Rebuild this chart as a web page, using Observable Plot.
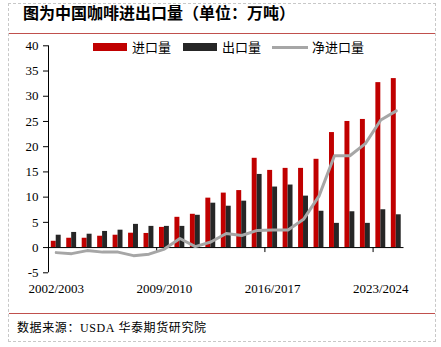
<!DOCTYPE html>
<html>
<head>
<meta charset="utf-8">
<script src="https://cdn.jsdelivr.net/npm/d3@7"></script>
<script src="https://cdn.jsdelivr.net/npm/@observablehq/plot@0.6"></script>
<style>
  html, body { margin: 0; padding: 0; background: #fff; }
  #wrap { position: relative; width: 441px; height: 347px; overflow: hidden; font-family: "Noto Sans CJK SC", sans-serif; }
  .abs { position: absolute; }
  #border { left: 8px; top: 3px; width: 426px; height: 337px; border: 1px dashed #c8c8c8; }
  #title { left: 23px; top: 2px; height: 20px; line-height: 20px; font-size: 16px; font-weight: bold; color: #000; white-space: nowrap; }
  .rline { left: 9px; width: 426px; height: 1px; background: #C0504D; }
  #chart { left: 0; top: 34px; }
  .sw { height: 8px; }
  .lt { font-size: 13px; line-height: 16px; color: #000; white-space: nowrap; }
  #caption { left: 17px; top: 318px; font-size: 12px; line-height: 18px; color: #000; white-space: nowrap; letter-spacing: 0.6px; }
</style>
</head>
<body>
<div id="wrap">
  <div id="border" class="abs"></div>
  <div id="title" class="abs">图为中国咖啡进出口量（单位：万吨）</div>
  <div class="abs rline" style="top:33px"></div>
  <div id="chart" class="abs"></div>
  <div class="abs sw" style="left:93px;top:43px;width:34px;background:#C00000"></div>
  <div class="abs lt" style="left:132px;top:39px">进口量</div>
  <div class="abs sw" style="left:183px;top:43px;width:34px;background:#262626"></div>
  <div class="abs lt" style="left:222px;top:39px">出口量</div>
  <div class="abs" style="left:272px;top:46px;width:36px;height:2.5px;background:#A6A6A6"></div>
  <div class="abs lt" style="left:312px;top:39px">净进口量</div>
  <div class="abs rline" style="top:313px"></div>
  <div id="caption" class="abs">数据来源：<span style="font-family:'Liberation Serif',serif">USDA</span> 华泰期货研究院</div>
</div>
<script>
const years = ["2002/2003","2003/2004","2004/2005","2005/2006","2006/2007","2007/2008","2008/2009","2009/2010","2010/2011","2011/2012","2012/2013","2013/2014","2014/2015","2015/2016","2016/2017","2017/2018","2018/2019","2019/2020","2020/2021","2021/2022","2022/2023","2023/2024","2024/2025"];
const imports = [1.25, 1.85, 1.85, 2.25, 2.45, 2.85, 2.8, 4.0, 6.0, 6.6, 9.8, 10.8, 11.3, 17.7, 15.3, 15.7, 15.7, 17.5, 22.8, 25.0, 25.4, 32.7, 33.5];
const exports_ = [2.45, 3.0, 2.65, 3.2, 3.45, 4.6, 4.2, 4.2, 4.2, 6.4, 8.8, 8.2, 9.2, 14.5, 12.0, 12.4, 10.2, 7.2, 4.8, 7.1, 4.8, 7.5, 6.5];
const netImports = [-1.0, -1.2, -0.6, -0.9, -0.9, -1.6, -1.3, -0.3, 1.8, 0.2, 1.1, 2.8, 2.4, 3.4, 3.5, 3.5, 5.6, 10.2, 18.2, 18.2, 20.6, 25.3, 27.1];
const labelYears = ["2002/2003","2009/2010","2016/2017","2023/2024"];
const yTicks = [-5, 0, 5, 10, 15, 20, 25, 30, 35, 40];

const rows = years.map((y, i) => ({i, year: y, imp: imports[i], exp: exports_[i], net: netImports[i]}));
const labelIdx = labelYears.map(y => years.indexOf(y));
const sepTicks = labelIdx.slice(1).map(i => i - 0.5);
const half = 0.32;

const chart = Plot.plot({
  width: 441,
  height: 279,
  marginLeft: 48,
  marginRight: 37.5,
  marginTop: 11.3,
  marginBottom: 40.7,
  style: {fontFamily: "'Liberation Serif', 'Times New Roman', serif", fontSize: "13px", color: "#000", background: "transparent", overflow: "visible"},
  x: {domain: [-0.5, years.length - 0.5], label: null},
  y: {domain: [-5, 40], label: null},
  marks: [
    Plot.rectY(rows, {x1: d => d.i - half, x2: d => d.i, y: "imp", fill: "#C00000"}),
    Plot.rectY(rows, {x1: d => d.i, x2: d => d.i + half, y: "exp", fill: "#262626"}),
    Plot.ruleY([0], {stroke: "#000", strokeWidth: 1}),
    Plot.ruleX(sepTicks, {y1: 0, y2: 0, insetBottom: -5, stroke: "#000", strokeWidth: 1}),
    Plot.line(rows, {x: "i", y: "net", stroke: "#A6A6A6", strokeWidth: 3, strokeLinejoin: "round"}),
    Plot.ruleX([-0.5], {stroke: "#000", strokeWidth: 1}),
    Plot.axisY({ticks: yTicks, tickSize: 5, tickPadding: 5, tickFormat: d => String(d), fill: "#000", stroke: "#000", label: null}),
    Plot.axisX({ticks: labelIdx, tickSize: 0, tickPadding: 11, tickFormat: i => years[i], fill: "#000", label: null})
  ]
});
document.getElementById("chart").appendChild(chart);
</script>
</body>
</html>
